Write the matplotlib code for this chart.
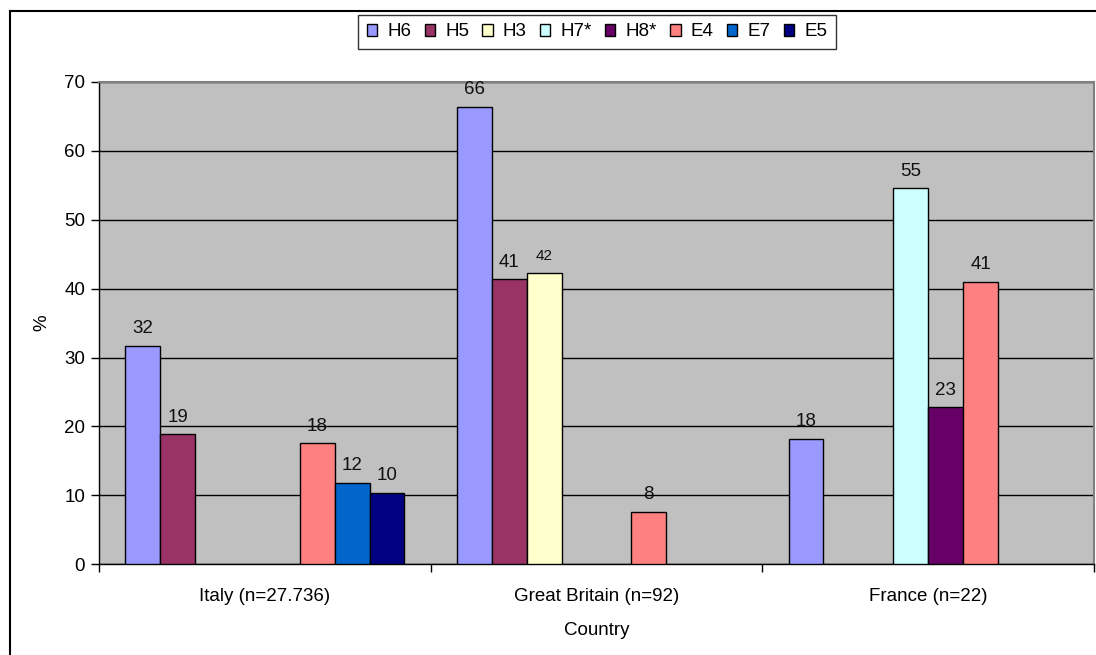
import matplotlib
matplotlib.use('Agg')
import matplotlib.pyplot as plt
from matplotlib.lines import Line2D
from matplotlib.patches import Patch
import numpy as np

plt.rcParams['font.family'] = ['Liberation Sans', 'DejaVu Sans']

countries = ['Italy (n=27.736)', 'Great Britain (n=92)', 'France (n=22)']
series = ['H6', 'H5', 'H3', 'H7*', 'H8*', 'E4', 'E7', 'E5']
colors = ['#9999FF', '#993366', '#FFFFCC', '#CCFFFF', '#660066', '#FF8080', '#0066CC', '#000080']

# percent per country, None where the series has no bar
h6 = [31.7, 66.4, 18.2]
h5 = [18.9, 41.4, None]
h3 = [None, 42.3, None]
h7 = [None, None, 54.6]
h8 = [None, None, 22.8]
e4 = [17.6, 7.6, 41.0]
e7 = [11.8, None, None]
e5 = [10.4, None, None]
values = [h6, h5, h3, h7, h8, e4, e7, e5]

fig = plt.figure(figsize=(10.96, 6.55), dpi=100)
ax = fig.add_axes([99 / 1096, 1 - 564.3 / 655, 995 / 1096, 482.3 / 655])
ax.set_facecolor('#C0C0C0')

n = len(series)
w = 1 / (n + 1.5)
for j, (name, col, vals) in enumerate(zip(series, colors, values)):
    for i, v in enumerate(vals):
        if v is None:
            continue
        x = i + 0.5 + (j - (n - 1) / 2) * w
        ax.bar(x, v, width=w, color=col, edgecolor='black', linewidth=1, zorder=3)
        size = 11 if name == 'H3' else 13.5
        ax.annotate(f'{v:.0f}', (x, v), xytext=(0, 9), textcoords='offset points',
                    ha='center', va='baseline', fontsize=size, color='#111111', zorder=4)

ax.set_xlim(0, 3)
ax.set_ylim(0, 70)
ax.set_yticks(range(0, 71, 10))
ax.yaxis.grid(True, color='black', linewidth=1, zorder=1)
ax.set_axisbelow(True)

ax.set_xticks([0, 1, 2, 3])
ax.set_xticklabels([])
ax.set_xticks([0.5, 1.5, 2.5], minor=True)
ax.set_xticklabels(countries, minor=True)
ax.tick_params(axis='x', which='minor', length=0, pad=17, labelsize=13.5)
ax.tick_params(axis='x', which='major', length=6, direction='out', width=1)
ax.tick_params(axis='y', length=6, direction='out', width=1, labelsize=13.5, pad=4)

for s in ['top', 'right']:
    ax.spines[s].set_color('#808080')
    ax.spines[s].set_linewidth(1.5)
for s in ['left', 'bottom']:
    ax.spines[s].set_color('black')
    ax.spines[s].set_linewidth(1)

ax.set_xlabel('Country', fontsize=13.5, labelpad=12)
ax.set_ylabel('%', fontsize=13.5, labelpad=10)

handles = [Patch(facecolor=c, edgecolor='black', linewidth=1) for c in colors]
leg = fig.legend(handles, series, loc='center', bbox_to_anchor=(597 / 1096, 1 - 32 / 655),
                 ncol=n, fontsize=13.5, frameon=True, fancybox=False,
                 handlelength=0.55, handleheight=0.55, handletextpad=0.55,
                 columnspacing=0.7, borderpad=0.45, borderaxespad=0)
leg.get_frame().set_edgecolor('black')
leg.get_frame().set_linewidth(1)

# chart frame
fig.add_artist(Line2D([10 / 1096, 10 / 1096], [0, 1 - 11 / 655], color='black', linewidth=1.5))
fig.add_artist(Line2D([10 / 1096, 1], [1 - 11 / 655, 1 - 11 / 655], color='black', linewidth=1.5))

fig.savefig('out.png', dpi=100)
